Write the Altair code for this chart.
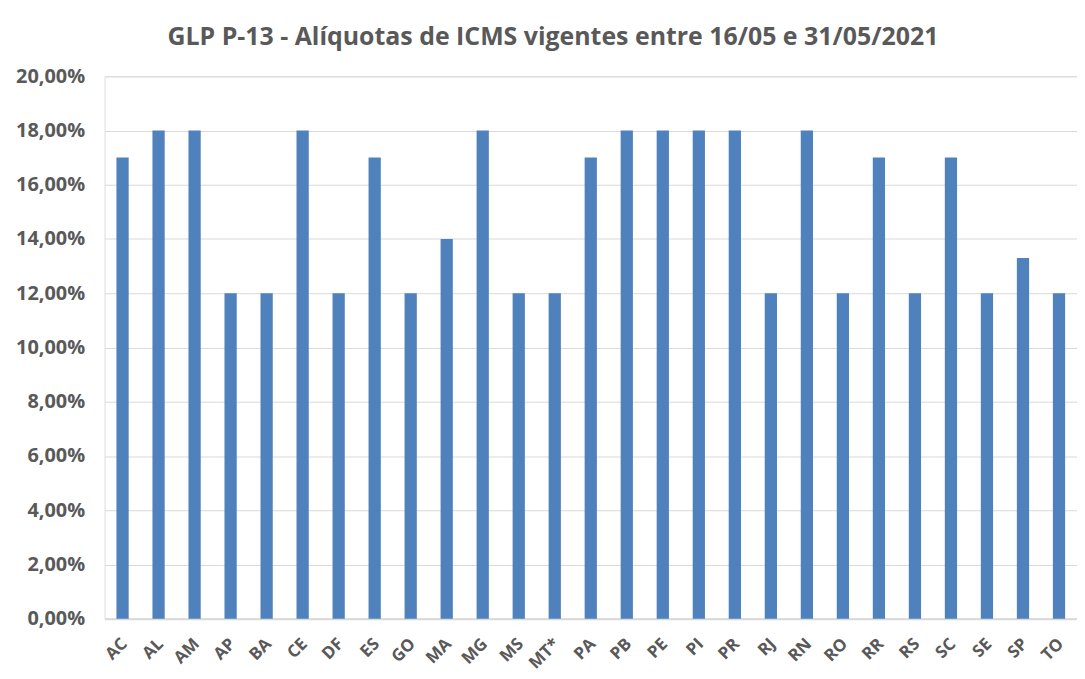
import altair as alt
import pandas as pd

states = ["AC", "AL", "AM", "AP", "BA", "CE", "DF", "ES", "GO", "MA", "MG", "MS", "MT*",
          "PA", "PB", "PE", "PI", "PR", "RJ", "RN", "RO", "RR", "RS", "SC", "SE", "SP", "TO"]
rates = [0.17, 0.18, 0.18, 0.12, 0.12, 0.18, 0.12, 0.17, 0.12, 0.14, 0.18, 0.12, 0.12,
         0.17, 0.18, 0.18, 0.18, 0.18, 0.12, 0.18, 0.12, 0.17, 0.12, 0.17, 0.12, 0.133, 0.12]
y_ticks = [0, 0.02, 0.04, 0.06, 0.08, 0.10, 0.12, 0.14, 0.16, 0.18, 0.20]

df = pd.DataFrame({"UF": states, "Aliquota": rates})

TEXT = "#595959"
FONT = "Open Sans"
H = 545

x_enc = alt.X("UF:N", sort=states,
              scale=alt.Scale(paddingInner=0.66, paddingOuter=0.33),
              axis=alt.Axis(title=None, labels=False, ticks=False, domainColor="#d9d9d9",
                            domainWidth=2))

bars = alt.Chart(df).mark_bar(color="#4f81bd").encode(
    x=x_enc,
    y=alt.Y("Aliquota:Q", scale=alt.Scale(domain=[0, 0.20], nice=False),
            axis=alt.Axis(title=None, values=y_ticks,
                          labelExpr="replace(format(datum.value, '.2%'), '.', ',')",
                          labelFont=FONT, labelFontWeight="bold", labelFontSize=20,
                          labelColor=TEXT, ticks=False, domain=False, gridColor="#d9d9d9",
                          labelPadding=20)),
)

labels = alt.Chart(df).mark_text(
    angle=315, align="right", baseline="middle", font=FONT, fontWeight="bold",
    fontSize=17, color=TEXT, dx=3
).encode(
    x=alt.X("UF:N", sort=states),
    y=alt.value(H + 25),
    text="UF:N",
)

chart = alt.layer(bars, labels).properties(
    width=977, height=H,
    title=alt.TitleParams("GLP P-13 - Alíquotas de ICMS vigentes entre 16/05 e 31/05/2021",
                          font=FONT, fontSize=25, fontWeight="bold", color=TEXT,
                          anchor="middle", offset=16, dx=-38),
    autosize=alt.AutoSizeParams(type="none"),
    padding={"left": 97, "top": 67, "right": 0, "bottom": 60},
).configure_view(stroke=None).configure(background="white")

chart.save("out.html", embed_options={"renderer": "svg", "actions": False})
